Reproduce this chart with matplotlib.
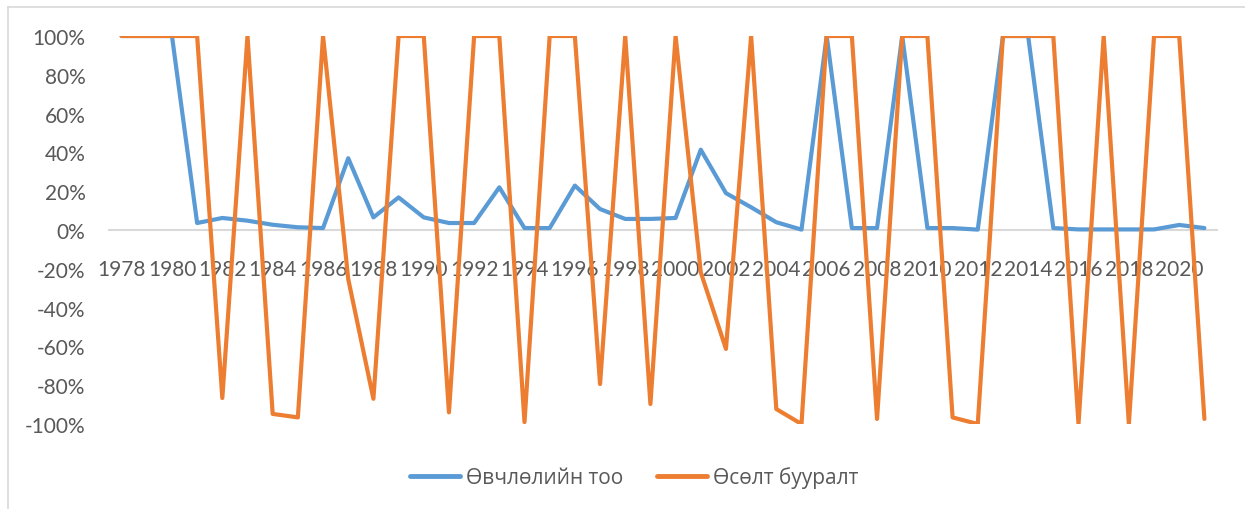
import matplotlib
matplotlib.use('Agg')
import matplotlib.pyplot as plt
from matplotlib.ticker import PercentFormatter
from matplotlib.lines import Line2D

years = list(range(1978, 2022))

# Өвчлөлийн тоо (blue), fractions of 1
incidence = [1.00, 1.00, 1.00, 0.036, 0.062, 0.048, 0.027, 0.014, 0.010, 0.37,
             0.065, 0.168, 0.065, 0.036, 0.036, 0.22, 0.010, 0.010, 0.229, 0.108,
             0.057, 0.057, 0.062, 0.414, 0.19, 0.117, 0.04, 0.002, 1.00, 0.010,
             0.010, 1.00, 0.010, 0.010, 0.002, 1.00, 1.00, 0.010, 0.003, 0.003,
             0.003, 0.003, 0.026, 0.010]

# Өсөлт бууралт (orange)
change = [1.00, 1.00, 1.00, 1.00, -0.866, 1.00, -0.948, -0.966, 1.00, -0.253,
          -0.87, 1.00, 1.00, -0.94, 1.00, 1.00, -0.99, 1.00, 1.00, -0.794,
          1.00, -0.897, 1.00, -0.218, -0.613, 1.00, -0.923, -1.00, 1.00, 1.00,
          -0.974, 1.00, 1.00, -0.966, -1.00, 1.00, 1.00, 1.00, -1.00, 1.00,
          -1.00, 1.00, 1.00, -0.974]

labels = ['Өвчлөлийн тоо', 'Өсөлт бууралт']
tick_years = years[::2]

text_color = '#595959'
blue = '#5B9BD5'
orange = '#ED7D31'
font = ['Lato', 'DejaVu Sans']
legend_font = ['Open Sans', 'Noto Sans', 'DejaVu Sans']

plt.rcParams['font.family'] = font
plt.rcParams['axes.unicode_minus'] = False

fig = plt.figure(figsize=(12.45, 5.10), dpi=100)
ax = fig.add_axes([109 / 1245, 1 - 425 / 510, (1217 - 109) / 1245, (425 - 37) / 510])

line_kw = dict(lw=3.0, solid_joinstyle='round', solid_capstyle='round')
ax.plot(years, incidence, color=blue, label=labels[0], **line_kw)
ax.plot(years, change, color=orange, label=labels[1], **line_kw)

ax.set_xlim(1977.5, 2021.5)
ax.set_ylim(-1.0, 1.0)
ax.set_yticks([i / 10 for i in range(-10, 11, 2)])
ax.yaxis.set_major_formatter(PercentFormatter(1.0, decimals=0))
ax.set_xticks(tick_years)
ax.set_xticklabels([str(y) for y in tick_years])

for side in ['top', 'right', 'left']:
    ax.spines[side].set_visible(False)
ax.spines['bottom'].set_position(('data', 0))
ax.spines['bottom'].set_color('#D9D9D9')
ax.spines['bottom'].set_linewidth(1.5)
ax.spines['bottom'].set_zorder(0)

ax.tick_params(axis='x', length=0, pad=21, labelsize=15, colors=text_color)
ax.tick_params(axis='y', length=0, pad=17, labelsize=15, colors=text_color)

# chart area frame (top and left edges visible)
fig.add_artist(Line2D([8 / 1245, 1], [1 - 8 / 510, 1 - 8 / 510],
                      color='#D9D9D9', lw=1.2))
fig.add_artist(Line2D([8 / 1245, 8 / 1245], [0, 1 - 8 / 510],
                      color='#D9D9D9', lw=1.2))

leg = fig.legend(loc='center', bbox_to_anchor=(634 / 1245, 1 - 478 / 510),
                 ncol=2, frameon=False, handlelength=2.4, columnspacing=1.6,
                 handletextpad=0.3,
                 prop={'family': legend_font, 'size': 15})
for t in leg.get_texts():
    t.set_color(text_color)
for h in leg.legend_handles:
    h.set_solid_capstyle('round')
    h.set_linewidth(3.5)

fig.savefig('out.png', dpi=100)
